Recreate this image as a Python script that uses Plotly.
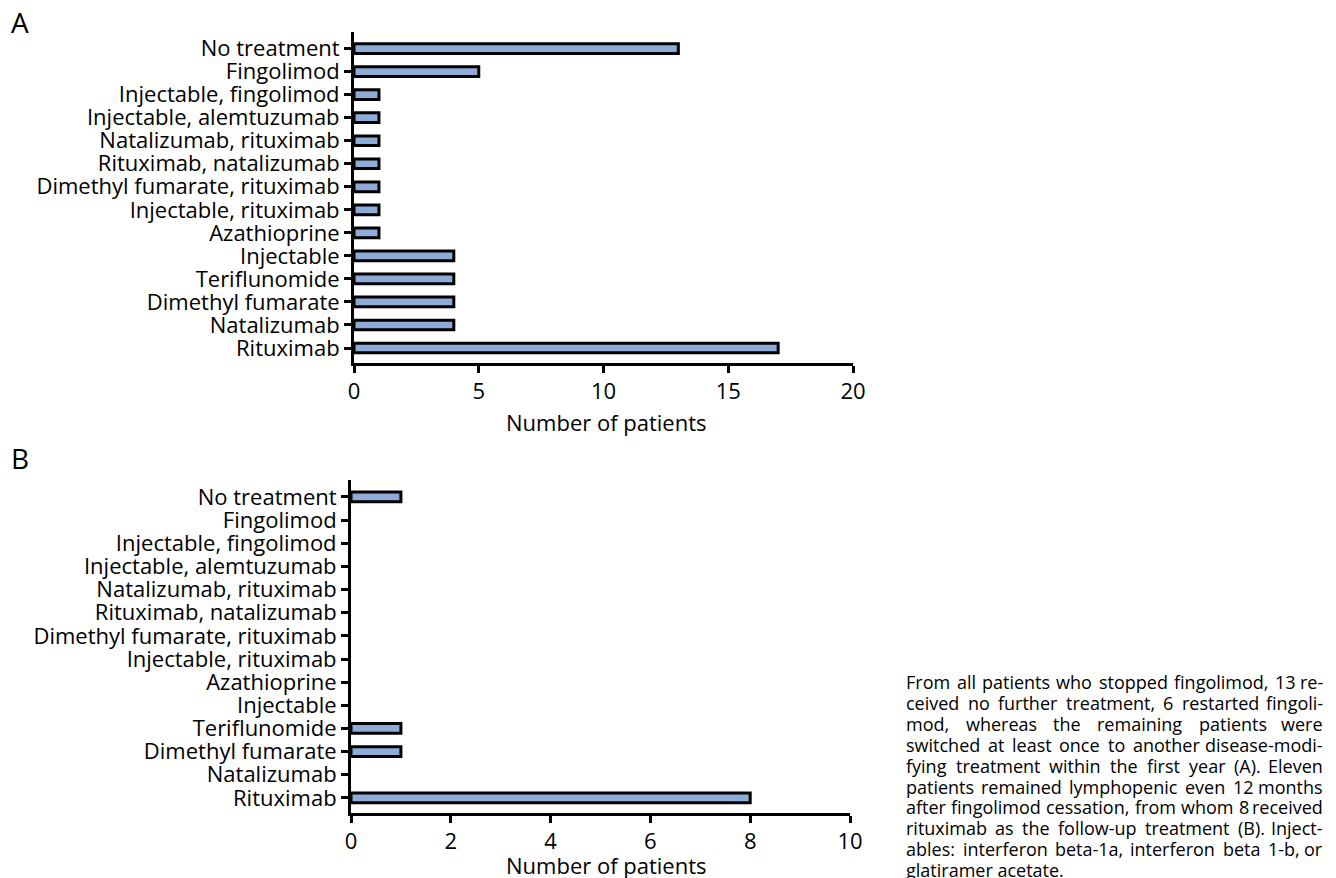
import plotly.graph_objects as go

categories = [
    "No treatment", "Fingolimod", "Injectable, fingolimod", "Injectable, alemtuzumab",
    "Natalizumab, rituximab", "Rituximab, natalizumab", "Dimethyl fumarate, rituximab",
    "Injectable, rituximab", "Azathioprine", "Injectable", "Teriflunomide",
    "Dimethyl fumarate", "Natalizumab", "Rituximab",
]
values_a = [13, 5, 1, 1, 1, 1, 1, 1, 1, 4, 4, 4, 4, 17]
values_b = [1, 0, 0, 0, 0, 0, 0, 0, 0, 0, 1, 1, 0, 8]
ticks_a = [0, 5, 10, 15, 20]
ticks_b = [0, 2, 4, 6, 8, 10]
caption_lines = [
    "From all patients who stopped fingolimod, 13 re-",
    "ceived no further treatment, 6 restarted fingoli-",
    "mod, whereas the remaining patients were",
    "switched at least once to another disease-modi-",
    "fying treatment within the first year (A). Eleven",
    "patients remained lymphopenic even 12 months",
    "after fingolimod cessation, from whom 8 received",
    "rituximab as the follow-up treatment (B). Inject-",
    "ables: interferon beta-1a, interferon beta 1-b, or",
    "glatiramer acetate.",
]

OFF = 8  # page body margin
W, H = 1336 - OFF, 878 - OFF
FONT = "Open Sans"
BAR_COLOR = "#8eaad6"
CAP_SIZE = 18
CAP_LEFT, CAP_RIGHT = 905, 1324

# approximate Open Sans advance widths (em) used to justify the caption
CHAR_W = {
    " ": 0.26, "a": 0.556, "b": 0.613, "c": 0.476, "d": 0.613, "e": 0.561, "f": 0.339,
    "g": 0.548, "h": 0.614, "i": 0.253, "j": 0.253, "k": 0.524, "l": 0.253, "m": 0.930,
    "n": 0.614, "o": 0.604, "p": 0.613, "q": 0.613, "r": 0.408, "s": 0.477, "t": 0.353,
    "u": 0.614, "v": 0.501, "w": 0.778, "x": 0.524, "y": 0.502, "z": 0.46,
    ",": 0.245, ".": 0.266, "-": 0.322, "(": 0.297, ")": 0.297, ":": 0.266,
    "E": 0.55, "F": 0.516, "I": 0.317, "A": 0.633, "B": 0.648,
}


def text_w(s):
    return sum(CHAR_W.get(ch, 0.572 if ch.isdigit() else 0.55) for ch in s) * CAP_SIZE


def px_x(x):
    return (x - OFF) / W


def px_y(y):
    return 1 - (y - OFF) / H


order = list(reversed(categories))  # bottom to top

fig = go.Figure()
fig.add_trace(go.Bar(
    y=categories, x=values_a, orientation="h", xaxis="x", yaxis="y",
    marker=dict(color=BAR_COLOR, line=dict(color="black", width=3)),
    width=0.42, showlegend=False,
))
fig.add_trace(go.Bar(
    y=[c for c, v in zip(categories, values_b) if v > 0],
    x=[v for v in values_b if v > 0], orientation="h", xaxis="x2", yaxis="y2",
    marker=dict(color=BAR_COLOR, line=dict(color="black", width=3)),
    width=0.42, showlegend=False,
))

axis_common = dict(
    showline=True, linecolor="black", linewidth=3, showgrid=False, zeroline=False,
    ticks="outside", ticklen=7, tickwidth=3, tickcolor="black", automargin=False,
    tickfont=dict(family=FONT, size=22, color="black"),
)

fig.update_layout(
    width=W, height=H,
    margin=dict(l=0, r=0, t=0, b=0, pad=0, autoexpand=False),
    paper_bgcolor="white", plot_bgcolor="white",
    font=dict(family=FONT, color="black"),
    xaxis=dict(domain=[px_x(354), px_x(853)], anchor="y", range=[0, 20],
               tickvals=ticks_a, **axis_common),
    yaxis=dict(domain=[px_y(363), px_y(32)], anchor="x", type="category",
               categoryorder="array", categoryarray=order,
               range=[-0.65, 13.72], tickvals=order, **axis_common),
    xaxis2=dict(domain=[px_x(351), px_x(850)], anchor="y2", range=[0, 10],
                tickvals=ticks_b, **axis_common),
    yaxis2=dict(domain=[px_y(813), px_y(480)], anchor="x2", type="category",
                categoryorder="array", categoryarray=order,
                range=[-0.65, 13.73], tickvals=order, **axis_common),
)

annotations = [
    dict(text="A", x=px_x(9), y=px_y(22), xanchor="left", yanchor="middle",
         font=dict(size=28, family=FONT, color="black")),
    dict(text="B", x=px_x(9), y=px_y(458), xanchor="left", yanchor="middle",
         font=dict(size=28, family=FONT, color="black")),
    dict(text="Number of patients", x=px_x(606), y=px_y(422), xanchor="center",
         yanchor="middle", font=dict(size=22, family=FONT, color="black")),
    dict(text="Number of patients", x=px_x(606), y=px_y(865), xanchor="center",
         yanchor="middle", font=dict(size=22, family=FONT, color="black")),
]

cap_font = dict(size=CAP_SIZE, family=FONT, color="black")
for i, line in enumerate(caption_lines):
    ypix = 682 + i * 20.9
    if i == len(caption_lines) - 1:
        annotations.append(dict(text=line, x=px_x(CAP_LEFT - 1), y=px_y(ypix),
                                xanchor="left", yanchor="middle", font=cap_font))
        continue
    words = line.split(" ")
    widths = [text_w(w) for w in words]
    gap = (CAP_RIGHT - CAP_LEFT - sum(widths)) / (len(words) - 1)
    xpos = CAP_LEFT
    for j, (wd, ww) in enumerate(zip(words, widths)):
        if j == len(words) - 1:
            annotations.append(dict(text=wd, x=px_x(CAP_RIGHT + 1), y=px_y(ypix),
                                    xanchor="right", yanchor="middle", font=cap_font))
        else:
            annotations.append(dict(text=wd, x=px_x(xpos - 1), y=px_y(ypix),
                                    xanchor="left", yanchor="middle", font=cap_font))
        xpos += ww + gap

for a in annotations:
    a.update(xref="paper", yref="paper", showarrow=False)
fig.update_layout(annotations=annotations)

fig.write_html("out.html")
